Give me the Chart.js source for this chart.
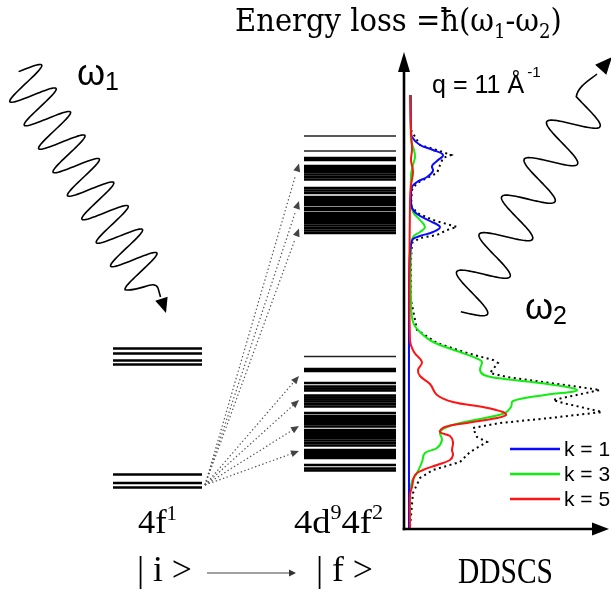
<!DOCTYPE html>
<html>
<head>
<meta charset="utf-8">
<script src="https://cdn.jsdelivr.net/npm/chart.js@4"></script>
<style>
  html, body { margin: 0; padding: 0; background: #ffffff; }
  canvas { display: block; }
</style>
</head>
<body>
<canvas id="c" width="611" height="595"></canvas>
<script>
// ---- DDSCS spectra, energy loss (arb. units) vs. intensity (arb. units) ----
const energyK1 = [86.8, 79.8, 78.4, 76.8, 75.8, 74.8, 73.6, 72.6, 71.6, 70.4, 69.4, 68.4, 65.8, 64.2, 63, 61.6, 60.4, 59.4, 58.6, 58, 56.8, 53.8, 45.8, 0.2];
const ddscsK1  = [3.25, 3.5, 4, 8, 14.5, 19.5, 16.5, 14, 14.5, 11.5, 6.5, 4, 3.5, 4, 6.5, 13, 18, 14.5, 8, 4.5, 3.5, 2.75, 2.5, 2.5];

const energyK3 = [86.8, 77.8, 75.8, 74.4, 72.8, 70.8, 65.8, 63.4, 61.8, 60.4, 59.4, 58.4, 56.8, 45.8, 41.4, 39.4, 37.4, 35.4, 34, 33.4, 31.8, 30.8, 30.2, 29.2, 27.8, 26.8, 25.6, 24.4, 23.2, 22, 21.2, 20.4, 19.4, 17.8, 16.2, 15.2, 13.4, 11.2, 9.6, 7.2, 0.2];
const ddscsK3  = [3.5, 3.5, 5, 5.5, 4.5, 3.5, 3.5, 4.5, 8, 10.5, 8, 4.5, 3.5, 3.5, 4.5, 8, 14.5, 28, 37, 39, 38, 40, 46.5, 68, 86.5, 70.5, 54.5, 53.5, 50.5, 38, 28, 21.5, 18, 19, 16.5, 10.5, 9, 6.5, 4, 3, 3];

const energyK5 = [86.8, 79.8, 75.8, 73.8, 71.4, 68.8, 65.8, 37.8, 35.4, 33.4, 31.8, 30.6, 29, 26.8, 25.4, 24.4, 23.4, 22.8, 22.2, 21.2, 20.4, 19.4, 18.6, 17.4, 15.8, 14.8, 13.8, 12.8, 11.8, 10.8, 8.4, 6.8, 0.2];
const ddscsK5  = [3, 3.5, 4, 3.5, 4.5, 3.5, 3, 3, 5, 9, 7, 8, 13, 16.5, 24.5, 39.5, 49.5, 51, 46.5, 31.5, 20.5, 18, 23, 24.5, 24, 24.5, 23, 16.5, 9.5, 5.5, 4, 3, 3];

const energyTotal = [79.8, 76.8, 75.8, 74.8, 74.2, 72.8, 71.2, 70.2, 69.2, 67.8, 64.8, 63.2, 61.8, 60.4, 59.8, 58.8, 58.2, 57.2, 53.8, 45.8, 39.8, 37.2, 35.2, 33.8, 33.2, 31.2, 30.4, 29.2, 27.8, 25.8, 25.2, 23.4, 22.2, 21.2, 20.2, 18.4, 17.4, 15.4, 13.4, 11.8, 10.2, 7.2, 0.4];
const ddscsTotal  = [3.5, 8, 16.5, 23.5, 19.5, 18, 16.5, 11.5, 6.5, 4, 3.5, 6.5, 14.5, 26.5, 21.5, 16.5, 8, 4, 3.5, 3.5, 6.5, 16.5, 31.5, 44.5, 47, 43, 51.5, 73, 98, 74.5, 79.5, 99, 73, 48, 34.5, 36.5, 41.5, 33, 28, 14.5, 8, 4.5, 3];

const seriesLabels = ['k = 1', 'k = 3', 'k = 5'];

// ---- level schemes on the same energy axis ----
const levels4f1 = [36.1, 35.1, 33.7, 32.9, 10.9, 9.2, 8.3];
const levels4d94f2 = [74.2, 73.8, 72.6, 72.2, 71.8, 71.4, 70.9, 70.4, 69.9, 68.2, 67.7, 67.2, 66.4, 66.0, 65.6, 65.2, 64.8, 64.2, 63.8, 63.2, 62.8, 62.4, 62.0, 61.6, 61.2, 60.7, 60.2, 59.7, 59.2,
                      32.0, 31.6, 29.2, 28.5, 28.1, 27.7, 26.7, 26.3, 25.9, 25.5, 25.0, 24.5, 23.2, 22.6, 22.2, 21.8, 21.4, 21.0, 20.5, 19.8, 19.4, 19.0, 18.6, 18.2, 17.7, 17.2, 16.7, 15.8, 15.4, 15.0, 14.6, 14.2, 12.8, 12.1, 11.7];
const weakLevels4d94f2 = [78.6, 75.6, 34.5];
// excitations from the 4f1 ground level
const groundEnergy = 9.2;
const transitionTargets = [73.1, 65.6, 60.1, 30.6, 25.8, 20.6, 15.6];

const pts = (e, v) => e.map((y, i) => ({ x: v[i], y: y }));

const SERIF_WIDE = "'DejaVu Serif', 'Liberation Serif', serif";
const SERIF = "'Liberation Serif', 'DejaVu Serif', serif";
const SANS = "'Liberation Sans', Arial, sans-serif";

// draw a sequence of text runs, optionally scaled to span a given width
// and stretched vertically by sy
function drawRuns(ctx, runs, x, baseline, width, family, sy) {
  const measure = (k) => runs.reduce((w, r) => {
    ctx.font = (r.size * k) + 'px ' + family;
    return w + ctx.measureText(r.t).width + (r.dx || 0);
  }, 0);
  const k = width ? width / measure(1) : 1;
  ctx.save();
  ctx.translate(x, baseline);
  ctx.scale(1, sy || 1);
  let cx = 0;
  ctx.textBaseline = 'alphabetic';
  ctx.textAlign = 'left';
  runs.forEach(r => {
    ctx.font = (r.size * k) + 'px ' + family;
    cx += (r.dx || 0);
    ctx.fillText(r.t, cx, (r.dy || 0) * k);
    cx += ctx.measureText(r.t).width;
  });
  ctx.restore();
}

function arrowHead(ctx, fromX, fromY, tipX, tipY, len, half) {
  const dx = tipX - fromX, dy = tipY - fromY;
  const d = Math.hypot(dx, dy);
  const ux = dx / d, uy = dy / d;
  const bx = tipX - ux * len, by = tipY - uy * len;
  ctx.beginPath();
  ctx.moveTo(tipX, tipY);
  ctx.lineTo(bx - uy * half, by + ux * half);
  ctx.lineTo(bx + uy * half, by - ux * half);
  ctx.closePath();
  ctx.fill();
}

// photon line: sinusoid along an axis
function photon(ctx, p0, s, a, t0, t1) {
  const n = 400;
  for (let i = 0; i <= n; i++) {
    const t = t0 + (t1 - t0) * i / n;
    const c = Math.cos(2 * Math.PI * t);
    const x = p0[0] + t * s[0] + c * a[0];
    const y = p0[1] + t * s[1] + c * a[1];
    if (i === 0) ctx.moveTo(x, y); else ctx.lineTo(x, y);
  }
}

const decor = {
  id: 'decor',
  afterDraw(chart) {
    const ctx = chart.ctx;
    const ys = chart.scales.y, xs = chart.scales.xi;
    const Y = (e) => ys.getPixelForValue(e);
    ctx.save();

    // energy levels
    ctx.strokeStyle = '#000';
    ctx.lineWidth = 2.6;
    levels4f1.forEach(e => { ctx.beginPath(); ctx.moveTo(113, Y(e)); ctx.lineTo(202, Y(e)); ctx.stroke(); });
    ctx.lineWidth = 2.5;
    levels4d94f2.forEach(e => { ctx.beginPath(); ctx.moveTo(304, Y(e)); ctx.lineTo(396, Y(e)); ctx.stroke(); });
    ctx.lineWidth = 1.4;
    ctx.strokeStyle = '#222';
    weakLevels4d94f2.forEach(e => { ctx.beginPath(); ctx.moveTo(304, Y(e)); ctx.lineTo(396, Y(e)); ctx.stroke(); });

    // dotted excitation arrows
    const sx = 205, sy = Y(groundEnergy) + 2;
    ctx.strokeStyle = '#555';
    ctx.fillStyle = '#444';
    ctx.lineWidth = 1.2;
    transitionTargets.forEach(e => {
      const tx = 299, ty = Y(e);
      ctx.setLineDash([1.4, 2.4]);
      ctx.beginPath(); ctx.moveTo(sx, sy); ctx.lineTo(tx - 4, ty + (sy - ty) * 4 / (tx - sx)); ctx.stroke();
      ctx.setLineDash([]);
      arrowHead(ctx, sx, sy, tx, ty, 8, 3.5);
    });

    // DDSCS axes
    const x0 = xs.getPixelForValue(0), y0 = ys.getPixelForValue(0);
    const yTop = ys.getPixelForValue(95.4), xEnd = xs.getPixelForValue(102.5);
    ctx.strokeStyle = '#000';
    ctx.fillStyle = '#000';
    ctx.lineWidth = 2.6;
    ctx.beginPath(); ctx.moveTo(x0, y0 + 1.3); ctx.lineTo(x0, yTop + 12); ctx.stroke();
    arrowHead(ctx, x0, y0, x0, yTop, 20, 6);
    ctx.beginPath(); ctx.moveTo(x0 - 1.3, y0); ctx.lineTo(xEnd - 12, y0); ctx.stroke();
    arrowHead(ctx, x0, y0, xEnd, y0, 17, 6.5);

    // legend
    const ds = chart.data.datasets;
    [0, 1, 2].forEach((i, j) => {
      const ly = 449 + j * 25;
      ctx.strokeStyle = ds[i].borderColor;
      ctx.lineWidth = 2.4;
      ctx.beginPath(); ctx.moveTo(510, ly); ctx.lineTo(560, ly); ctx.stroke();
      ctx.fillStyle = '#000';
      ctx.font = '21px ' + SANS;
      ctx.textBaseline = 'middle';
      ctx.fillText(ds[i].label, 564, ly + 1);
    });

    // photons
    ctx.strokeStyle = '#000';
    ctx.fillStyle = '#000';
    ctx.lineWidth = 1.6;
    ctx.beginPath();
    photon(ctx, [22.2, 77.5], [14.4, 23.5], [19.5, -12.5], -0.25, 8.5);
    ctx.bezierCurveTo(140, 292, 154, 279, 158, 288);
    ctx.lineTo(160.5, 297);
    ctx.stroke();
    arrowHead(ctx, 158, 288, 166, 313, 15, 6.5);

    ctx.beginPath();
    photon(ctx, [579, 114.8], [-22.5, 37.5], [21, 11.9], 5.25, -0.33);
    ctx.bezierCurveTo(578, 86, 590, 80, 597, 74);
    ctx.stroke();
    arrowHead(ctx, 588, 84, 612, 57, 17, 7.5);

    // texts
    ctx.fillStyle = '#000';
    drawRuns(ctx, [{ t: 'ω', size: 36 }, { t: '1', size: 25, dy: 5 }], 77, 85, 0, SANS);
    drawRuns(ctx, [{ t: 'ω', size: 36 }, { t: '2', size: 25, dy: 5 }], 525, 319, 0, SANS);
    drawRuns(ctx, [{ t: 'q = 11 Å', size: 23 }, { t: '-1', size: 14, dy: -15, dx: 3 }], 432, 93, 109, SANS);
    drawRuns(ctx, [{ t: 'Energy loss =ħ(ω', size: 24 }, { t: '1', size: 15, dy: 5 }, { t: '-ω', size: 24 }, { t: '2', size: 15, dy: 5 }, { t: ')', size: 24 }], 235, 31, 327, SERIF_WIDE, 1.08);
    drawRuns(ctx, [{ t: '4f', size: 28 }, { t: '1', size: 17, dy: -11 }], 138, 533, 39, SERIF);
    drawRuns(ctx, [{ t: '4d', size: 28 }, { t: '9', size: 17, dy: -11 }, { t: '4f', size: 28 }, { t: '2', size: 17, dy: -11 }], 294, 533, 89, SERIF, 0.95);
    drawRuns(ctx, [{ t: '| i >', size: 28 }], 137, 581, 55, SERIF);
    drawRuns(ctx, [{ t: '| f >', size: 28 }], 316, 581, 57, SERIF);
    drawRuns(ctx, [{ t: 'DDSCS', size: 28 }], 458, 583, 95, SERIF, 1.2);

    // |i> -> |f>
    ctx.strokeStyle = '#444';
    ctx.fillStyle = '#333';
    ctx.lineWidth = 1.2;
    ctx.beginPath(); ctx.moveTo(207, 573); ctx.lineTo(290, 573); ctx.stroke();
    arrowHead(ctx, 207, 573, 296, 573, 7, 3.5);

    ctx.restore();
  }
};

const common = { showLine: true, pointRadius: 0, xAxisID: 'xi', yAxisID: 'y', fill: false };

new Chart(document.getElementById('c'), {
  type: 'scatter',
  data: {
    datasets: [
      { ...common, label: seriesLabels[0], data: pts(energyK1, ddscsK1), borderColor: '#0a0aff', borderWidth: 2, tension: 0.4, order: 1 },
      { ...common, label: seriesLabels[1], data: pts(energyK3, ddscsK3), borderColor: '#10ee10', borderWidth: 2, tension: 0.4, order: 2 },
      { ...common, label: seriesLabels[2], data: pts(energyK5, ddscsK5), borderColor: '#ff1414', borderWidth: 2, tension: 0.4, order: 0 },
      { ...common, label: 'total', data: pts(energyTotal, ddscsTotal), borderColor: '#000', borderWidth: 2, borderDash: [2, 3.5], tension: 0, order: 3 }
    ]
  },
  options: {
    responsive: false,
    animation: false,
    devicePixelRatio: 1,
    layout: { padding: 0 },
    plugins: { legend: { display: false }, tooltip: { enabled: false } },
    scales: {
      xi: { type: 'linear', display: false, min: -202, max: 103.5 },
      y: { type: 'linear', display: false, min: -13.2, max: 105.8 }
    }
  },
  plugins: [decor]
});
</script>
</body>
</html>
